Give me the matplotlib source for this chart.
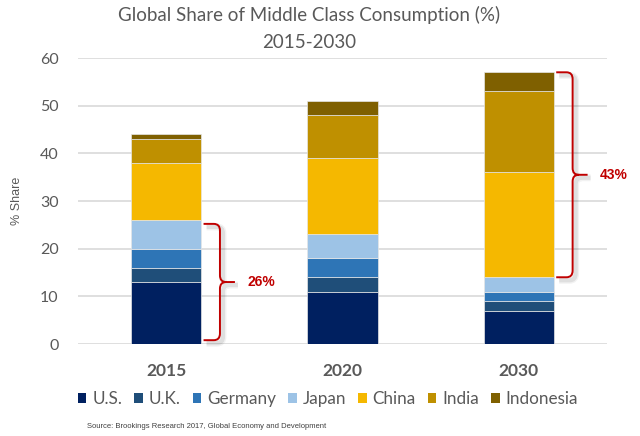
import matplotlib
matplotlib.use("Agg")
import matplotlib.pyplot as plt
from matplotlib.path import Path
from matplotlib.patches import PathPatch, Patch
import matplotlib.transforms as mtransforms
import numpy as np

years = ["2015", "2020", "2030"]
countries = ["U.S.", "U.K.", "Germany", "Japan", "China", "India", "Indonesia"]
us = [13, 11, 7]
uk = [3, 3, 2]
germany = [4, 4, 2]
japan = [6, 5, 3]
china = [12, 16, 22]
india = [5, 9, 17]
indonesia = [1, 3, 4]
colors = ["#002060", "#1F4E79", "#2E75B6", "#9DC3E6", "#F5B800", "#BF9000", "#7F6000"]
bracket_labels = ["26%", "43%"]

series = [us, uk, germany, japan, china, india, indonesia]

plt.rcParams['font.family'] = ['Lato', 'DejaVu Sans']

fig = plt.figure(figsize=(6.4, 4.36), dpi=100)
ax = fig.add_axes([78/640, 1-344/436, (607-78)/640, (344-58)/436])

x = np.arange(len(years))
width = 0.4
bottom = np.zeros(len(years))
for vals, c, name in zip(series, colors, countries):
    ax.bar(x, vals, width, bottom=bottom, color=c, edgecolor="#E6E6E6",
           linewidth=0.5, label=name, zorder=3)
    bottom += np.array(vals)

ax.set_xlim(-0.5, 2.5)
ax.set_ylim(0, 60)
ax.set_yticks(range(0, 61, 10))
ax.yaxis.grid(True, color="#D9D9D9", linewidth=1.2, zorder=0)
ax.set_axisbelow(True)
for s in ax.spines.values():
    s.set_visible(False)
ax.tick_params(axis='y', length=0, pad=14, labelsize=11.5, labelcolor="#595959")
ax.tick_params(axis='x', length=0, pad=14, labelsize=12.5, labelcolor="#595959")
ax.set_xticks(x)
ax.set_xticklabels(years, fontweight='bold')
ax.set_ylabel("% Share", fontsize=9, color="#595959", family=['Liberation Sans'], labelpad=12)

# Braces
def brace(ax, xe, y0, y1, label):
    xL = xe + 0.012
    xV = xe + 0.105
    xT = xe + 0.19
    rx = 0.035
    ry = 1.4
    ym = (y0 + y1) / 2
    verts = [
        (xL, y1), (xV - rx, y1), (xV, y1), (xV, y1 - ry), (xV, ym + ry), (xV, ym), (xV + rx, ym), (xT, ym),
        (xV + rx, ym), (xV, ym), (xV, ym - ry), (xV, y0 + ry), (xV, y0), (xV - rx, y0), (xL, y0),
    ]
    codes = [
        Path.MOVETO, Path.LINETO, Path.CURVE3, Path.CURVE3, Path.LINETO, Path.CURVE3, Path.CURVE3, Path.LINETO,
        Path.MOVETO, Path.CURVE3, Path.CURVE3, Path.LINETO, Path.CURVE3, Path.CURVE3, Path.LINETO,
    ]
    path = Path(verts, codes)
    shadow_tr = mtransforms.offset_copy(ax.transData, fig=fig, x=3, y=-3, units='dots')
    for lw, a in [(5, 0.05), (3, 0.08)]:
        sh = PathPatch(path, facecolor='none', edgecolor="#000000", lw=lw, alpha=a, zorder=4,
                       clip_on=False, transform=shadow_tr)
        ax.add_patch(sh)
    p = PathPatch(path, facecolor='none', edgecolor="#C00000", lw=1.4, zorder=5,
                  clip_on=False, capstyle='butt')
    ax.add_patch(p)
    ax.text(xe + 0.26, ym, label, color="#C00000", fontsize=10, fontweight='bold',
            family=['Liberation Sans'], va='center', ha='left', zorder=6)

cum = np.cumsum(np.array(series), axis=0)
# 2015: U.S. through Japan
brace(ax, x[0] + width / 2, 0 + 0.8, cum[3][0] - 0.8, bracket_labels[0])
# 2030: China through Indonesia
brace(ax, x[2] + width / 2, cum[3][2], cum[6][2], bracket_labels[1])

fig.text(309/640, 1 - 15/436, "Global Share of Middle Class Consumption (%)",
         ha='center', va='center', fontsize=13.5, color="#595959")
fig.text(309/640, 1 - 42/436, "2015-2030", ha='center', va='center',
         fontsize=13.5, color="#595959")

handles = [Patch(facecolor=c, edgecolor='none') for c in colors]
leg = fig.legend(handles, countries, loc='center', bbox_to_anchor=(328/640, 1 - 399/436), ncol=7,
                 frameon=False, fontsize=12.3, handlelength=0.5, handleheight=0.5,
                 handletextpad=0.35, columnspacing=0.7, labelcolor="#595959")

fig.text(87/640, 1 - 426/436, "Source: Brookings Research 2017, Global Economy and Development",
         fontsize=5.5, color="#404040", family=['Liberation Sans'], va='center', ha='left')

fig.savefig("out.png", dpi=100)
